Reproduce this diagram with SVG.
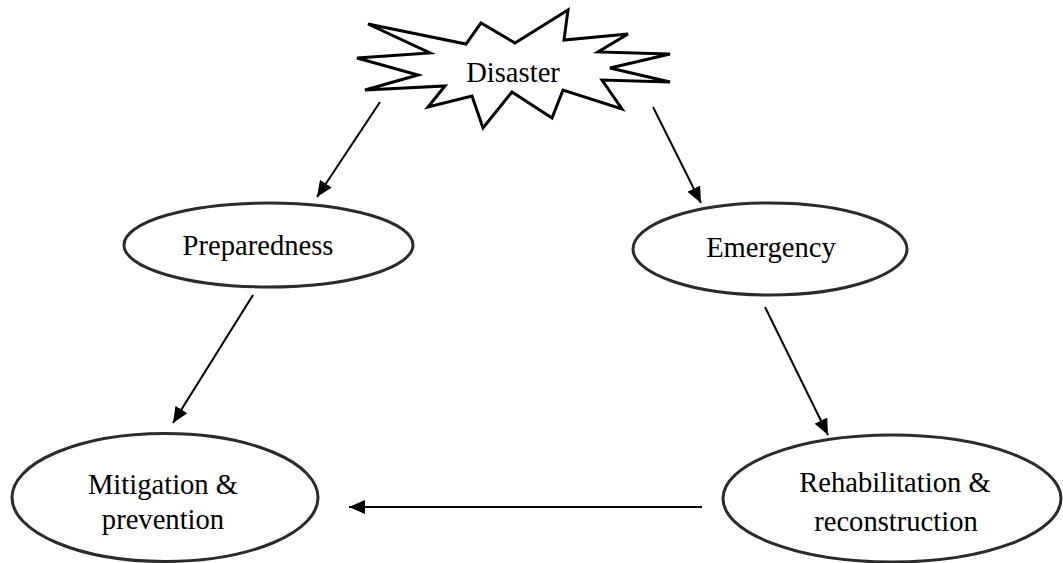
<svg xmlns="http://www.w3.org/2000/svg" width="1063" height="563" viewBox="0 0 1063 563">
<style>
.node{fill:#fff;stroke:#2b2b2b;stroke-width:3}
.burst{fill:#fff;stroke:#000;stroke-width:3;stroke-linejoin:miter}
.lbl{font-family:"Liberation Serif","Times New Roman",serif;font-size:28.6px;fill:#000;text-anchor:middle}
.conn{stroke:#000;stroke-width:2;fill:none;marker-end:url(#ah)}
</style>
<defs>
<marker id="ah" markerWidth="8" markerHeight="7" refX="8" refY="3.5" orient="auto" markerUnits="strokeWidth">
<path d="M0,0 L8,3.5 L0,7 Z" fill="#000"/>
</marker>
</defs>
<rect width="1063" height="563" fill="#fff"/>
<g id="connectors">
<line class="conn" x1="380" y1="102" x2="317" y2="197"/>
<line class="conn" x1="653" y1="107" x2="701" y2="203"/>
<line class="conn" x1="253" y1="295" x2="173" y2="423"/>
<line class="conn" x1="765" y1="307" x2="828" y2="435"/>
<line class="conn" x1="702" y1="507" x2="349" y2="507"/>
</g>
<g id="disaster">
<polygon class="burst" points="368,24 466,44 481,23 515,43 568,10 564,40 628,34 598,52 670,54 610,68 670,82 602,80 622,109 563,90 552,118 512,92 483,128 472,96 428,107 445,86 365,90 418,75 357,58 430,53"/>
<text class="lbl" x="513" y="82">Disaster</text>
</g>
<g id="preparedness">
<ellipse class="node" cx="268.5" cy="245" rx="144.5" ry="42"/>
<text class="lbl" x="258" y="255">Preparedness</text>
</g>
<g id="emergency">
<ellipse class="node" cx="770" cy="249" rx="137" ry="46"/>
<text class="lbl" x="771" y="257">Emergency</text>
</g>
<g id="mitigation">
<ellipse class="node" cx="165" cy="497.5" rx="153" ry="64"/>
<text class="lbl" x="163" y="494">Mitigation &amp;</text>
<text class="lbl" x="163" y="529">prevention</text>
</g>
<g id="rehabilitation">
<ellipse class="node" cx="892" cy="498.5" rx="169" ry="63.5"/>
<text class="lbl" x="895" y="492">Rehabilitation &amp;</text>
<text class="lbl" x="896" y="531">reconstruction</text>
</g>
</svg>
